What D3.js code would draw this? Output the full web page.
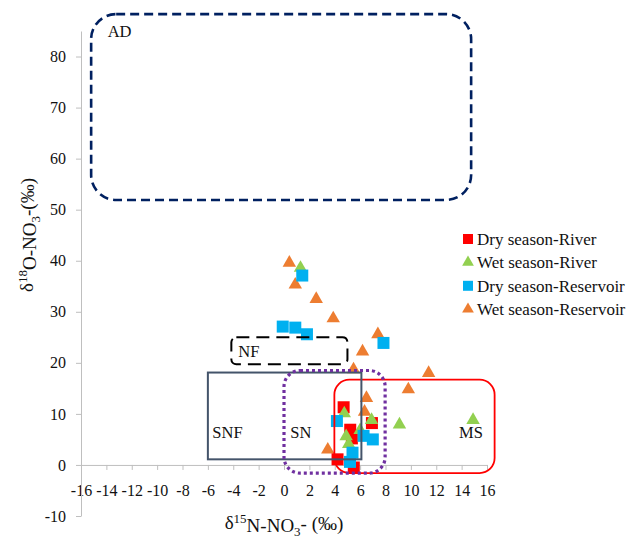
<!DOCTYPE html>
<html>
<head>
<meta charset="utf-8">
<script src="https://cdn.jsdelivr.net/npm/d3@7"></script>
<style>
	body { margin: 0; background: #fff; }
	svg { display: block; }
</style>
</head>
<body>
<svg id="chart" width="638" height="539"></svg>
<script>
// values (delta15N, delta18O in permil)
var seriesNames = ["Dry season-River", "Wet season-River", "Dry season-Reservoir", "Wet season-Reservoir"];
var dryRiver = [[4.7, 11.3], [5.22, 6.9], [5.35, 5.2], [6.93, 8.2], [4.22, 1.1], [5.5, -0.5]];
var wetRiver = [[1.3, 38.6], [4.75, 10.1], [6.9, 8.8], [6.0, 6.8], [4.9, 5.6], [5.1, 4.1], [9.1, 7.9], [14.9, 8.8]];
var dryReservoir = [[1.44, 37.1], [-0.1, 27.1], [0.89, 26.9], [1.81, 25.6], [7.84, 23.9], [4.17, 8.6],
	[6.27, 5.7], [7.0, 5.0], [5.4, 2.4], [5.2, 0.6]];
var wetReservoir = [[0.42, 39.6], [0.89, 35.3], [2.54, 32.5], [3.88, 28.7], [7.4, 25.6], [6.19, 22.2],
	[5.48, 18.7], [11.4, 18.0], [9.8, 14.8], [6.5, 13.1], [6.35, 10.4], [3.45, 3.0]];

var xTicks = [-16, -14, -12, -10, -8, -6, -4, -2, 0, 2, 4, 6, 8, 10, 12, 14, 16];
var yTicks = [-10, 0, 10, 20, 30, 40, 50, 60, 70, 80];

// source boxes, in axis units
var regionNames = ["AD", "NF", "MS", "SNF", "SN"];
var regionX = [[-15.2, 14.75], [-4.15, 5.0], [3.97, 16.6], [-6.0, 6.1], [0.0, 7.97]];
var regionY = [[51.9, 88.3], [19.7, 25.0], [-1.6, 16.7], [1.1, 18.1], [-1.6, 18.5]];
var regionLabelAt = [[-13.9, 83.8], [-3.6, 21.2], [13.8, 5.3], [-5.65, 5.3], [0.5, 5.3]];

var serif = "'Liberation Serif', 'Times New Roman', Times, serif";
var svg = d3.select("#chart").attr("font-family", serif);
var x = d3.scaleLinear().domain([-16, 16]).range([81, 487]);
var y = d3.scaleLinear().domain([-10, 85]).range([516, 31]);
var axisColor = "#bfbfbf";
var textColor = "#111111";

// axes, crossing at x=-16 / y=0
var xAxis = svg.append("g")
	.attr("transform", "translate(0," + y(0) + ")")
	.call(d3.axisBottom(x).tickValues(xTicks).tickSize(5).tickSizeOuter(0));
xAxis.selectAll("text").attr("y", 25).attr("dy", "0.35em");

var yAxis = svg.append("g")
	.attr("transform", "translate(" + x(-16) + ",0)")
	.call(d3.axisLeft(y).tickValues(yTicks).tickSize(5).tickSizeOuter(0));
yAxis.selectAll("text").attr("x", -15);

[xAxis, yAxis].forEach(function(ax) {
	ax.attr("font-family", serif).attr("font-size", 16);
	ax.selectAll(".domain, .tick line").attr("stroke", axisColor).attr("stroke-width", 1);
	// Excel shows a plain hyphen as minus
	ax.selectAll(".tick text")
		.attr("fill", textColor)
		.text(function(d) { return d < 0 ? "-" + (-d) : d; });
});

// points
var symSquare = d3.symbol().type(d3.symbolSquare).size(144);
var symTri = d3.symbol().type(d3.symbolTriangle).size(78);
var series = [
	{ name: seriesNames[3], data: wetReservoir, color: "#ed7d31", sym: symTri },
	{ name: seriesNames[0], data: dryRiver, color: "#ff0000", sym: symSquare },
	{ name: seriesNames[1], data: wetRiver, color: "#92d050", sym: symTri },
	{ name: seriesNames[2], data: dryReservoir, color: "#00b0f0", sym: symSquare }
];
series.forEach(function(s) {
	svg.append("g").selectAll("path")
		.data(s.data)
		.enter()
			.append("path")
			.attr("d", s.sym)
			.attr("fill", s.color)
			.attr("transform", function(d) { return "translate(" + x(d[0]) + "," + y(d[1]) + ")"; });
});

// boxes drawn over the points
var regionStyle = {
	AD: { stroke: "#002060", width: 2.6, dash: "9,5", r: 25 },
	NF: { stroke: "#000000", width: 2, dash: "13,7", r: 5 },
	MS: { stroke: "#ff0000", width: 1.8, dash: null, r: 15 },
	SNF: { stroke: "#44546a", width: 2, dash: null, r: 0 },
	SN: { stroke: "#7030a0", width: 3.2, dash: "3,3", r: 16 }
};
regionNames.forEach(function(name, i) {
	var st = regionStyle[name];
	var x0 = x(regionX[i][0]), x1 = x(regionX[i][1]);
	var y0 = y(regionY[i][1]), y1 = y(regionY[i][0]);
	svg.append("rect")
		.attr("x", x0).attr("y", y0)
		.attr("width", x1 - x0).attr("height", y1 - y0)
		.attr("rx", st.r).attr("ry", st.r)
		.attr("fill", "none")
		.attr("stroke", st.stroke)
		.attr("stroke-width", st.width)
		.attr("stroke-dasharray", st.dash);
	svg.append("text")
		.attr("x", x(regionLabelAt[i][0]))
		.attr("y", y(regionLabelAt[i][1]))
		.attr("fill", textColor)
		.attr("font-size", 16.5)
		.text(name);
});

// legend
var legendOrder = [
	{ name: seriesNames[0], color: "#ff0000", sym: d3.symbol().type(d3.symbolSquare).size(100) },
	{ name: seriesNames[1], color: "#92d050", sym: d3.symbol().type(d3.symbolTriangle).size(60) },
	{ name: seriesNames[2], color: "#00b0f0", sym: d3.symbol().type(d3.symbolSquare).size(100) },
	{ name: seriesNames[3], color: "#ed7d31", sym: d3.symbol().type(d3.symbolTriangle).size(60) }
];
var legend = svg.append("g").attr("transform", "translate(468,239)");
legendOrder.forEach(function(s, i) {
	var row = legend.append("g").attr("transform", "translate(0," + (i * 23.4) + ")");
	row.append("path").attr("d", s.sym).attr("fill", s.color);
	row.append("text")
		.attr("x", 9)
		.attr("dy", "0.35em")
		.attr("fill", textColor)
		.attr("font-size", 17)
		.text(s.name);
});

// axis titles
function titleText(sel, big, sup, mid, sub, tail) {
	sel.append("tspan").text(big);
	sel.append("tspan").attr("dy", "-0.45em").attr("font-size", 13).text(sup);
	sel.append("tspan").attr("dy", "0.45em").text(mid);
	sel.append("tspan").attr("dy", "0.3em").attr("font-size", 13).text(sub);
	sel.append("tspan").attr("dy", "-0.3em").text(tail);
}
var xTitle = svg.append("text")
	.attr("x", x(0))
	.attr("y", 529)
	.attr("text-anchor", "middle")
	.attr("fill", textColor)
	.attr("font-size", 19);
titleText(xTitle, "δ", "15", "N-NO", "3", "- (‰)");

var yTitle = svg.append("text")
	.attr("transform", "translate(33,235) rotate(-90)")
	.attr("text-anchor", "middle")
	.attr("fill", textColor)
	.attr("font-size", 19);
titleText(yTitle, "δ", "18", "O-NO", "3", "-(‰)");
</script>
</body>
</html>
